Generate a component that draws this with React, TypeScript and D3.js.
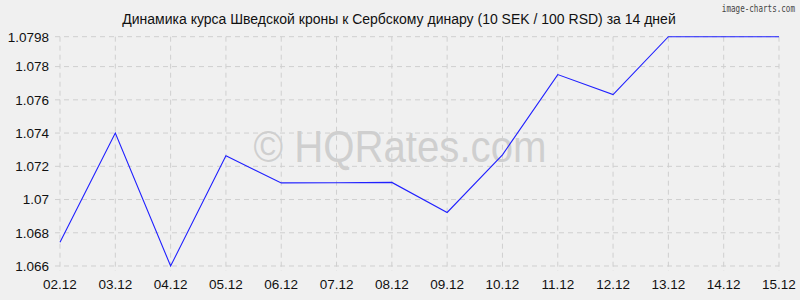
import React from "react";
import * as d3 from "d3";

const dates = ["02.12","03.12","04.12","05.12","06.12","07.12","08.12","09.12","10.12","11.12","12.12","13.12","14.12","15.12"];
const rates = [1.06743,1.0740,1.0660,1.07263,1.0710,1.07101,1.07103,1.06922,1.07269,1.07752,1.07632,1.0798,1.0798,1.0798];
const yTicks = [1.066,1.068,1.07,1.072,1.074,1.076,1.078,1.0798];
const yTickLabels = ["1.066","1.068","1.07","1.072","1.074","1.076","1.078","1.0798"];

const W = 800, H = 300;
const left = 60, right = 779, top = 36.7, bottom = 266;
const FONT = "'Liberation Sans', Arial, sans-serif";

export default function App() {
  const x = d3.scalePoint<string>().domain(dates).range([left, right]);
  const y = d3.scaleLinear().domain([1.066, 1.0798]).range([bottom, top]);
  const line = d3.line<number>().x((_, i) => x(dates[i])!).y(d => y(d));
  return (
    <svg width={W} height={H} style={{ position: "absolute", left: 0, top: 0 }} fontFamily={FONT}>
      <rect width={W} height={H} fill="#f0f0f0" />
      <text x={399} y={24} textAnchor="middle" fontSize={14} fill="#111">
        Динамика курса Шведской кроны к Сербскому динару (10 SEK / 100 RSD) за 14 дней
      </text>
      <text transform="translate(795,12) scale(0.76,1)" textAnchor="end" fontSize={10} fontFamily="'DejaVu Sans Mono', monospace" fill="#444">
        image-charts.com
      </text>
      <text x={400} y={162} textAnchor="middle" fontSize={44} fill="#c4c4c4" fillOpacity={0.75} textLength={293} lengthAdjust="spacingAndGlyphs">
        © HQRates.com
      </text>
      {yTicks.map((t, i) => (
        <g key={"y" + i}>
          <line x1={left - 5} x2={right} y1={y(t)} y2={y(t)} stroke="#cfcfcf" strokeDasharray="5,4" />
          <text x={49} y={y(t)} dy="0.36em" textAnchor="end" fontSize={13.5} fill="#111">{yTickLabels[i]}</text>
        </g>
      ))}
      {dates.map(d => (
        <g key={d}>
          <line x1={x(d)} x2={x(d)} y1={top} y2={bottom + 5} stroke="#cfcfcf" strokeDasharray="5,4" />
          <text x={x(d)} y={289} textAnchor="middle" fontSize={13.5} fill="#111">{d}</text>
        </g>
      ))}
      <path d={line(rates) || ""} fill="none" stroke="#2020ff" strokeWidth={1.1} />
    </svg>
  );
}
